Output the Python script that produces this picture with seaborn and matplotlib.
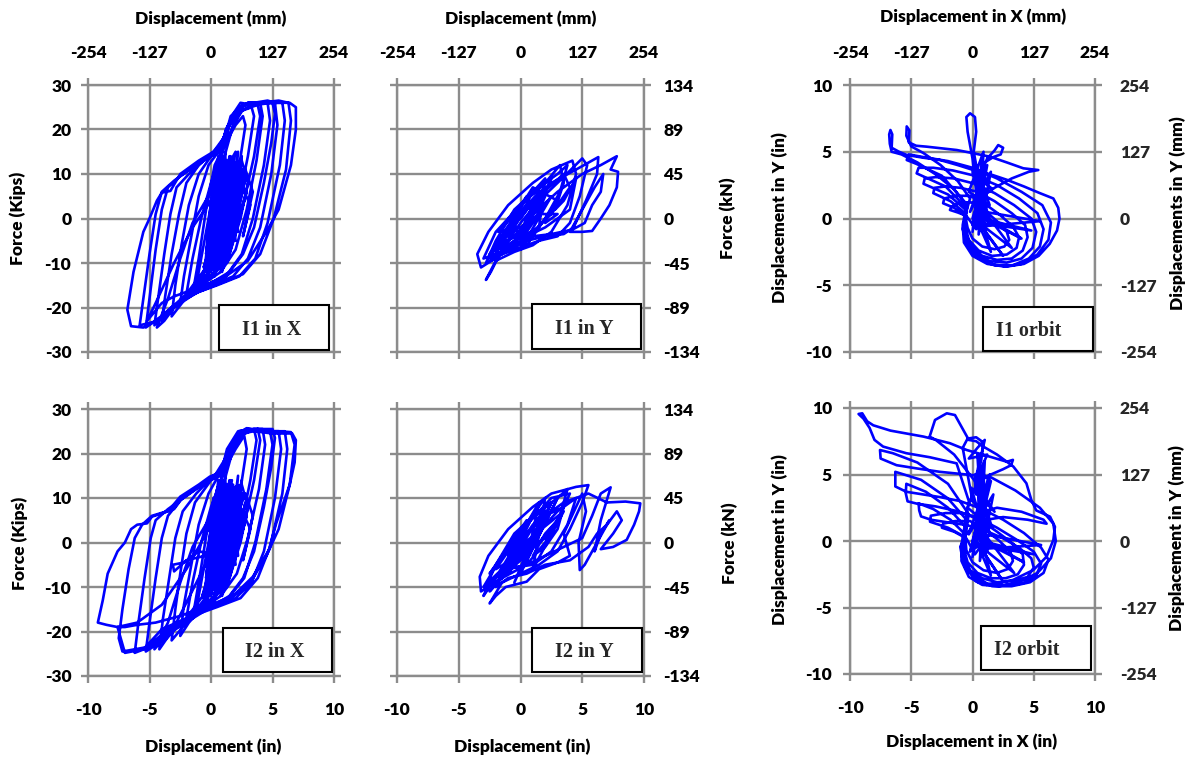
import numpy as np
import matplotlib
matplotlib.use("Agg")
import matplotlib.pyplot as plt
import seaborn as sns
from matplotlib.patches import Rectangle

# ---------------- data ----------------
IN_TICKS = [-10, -5, 0, 5, 10]
IN_LABELS = ["-10", "-5", "0", "5", "10"]
MM_LABELS = ["-254", "-127", "0", "127", "254"]
KIPS_TICKS = [-30, -20, -10, 0, 10, 20, 30]
KIPS_LABELS = ["-30", "-20", "-10", "0", "10", "20", "30"]
KN_LABELS = ["-134", "-89", "-45", "0", "45", "89", "134"]
ORB_TICKS = [-10, -5, 0, 5, 10]
ORB_LABELS = ["-10", "-5", "0", "5", "10"]

PANEL_TITLES = ["I1 in X", "I1 in Y", "I1 orbit", "I2 in X", "I2 in Y", "I2 orbit"]

# I1 in X : displacement (in), force (kips)
I1X_PTS = [
    (0.0, 0.0), (0.6, 7.0), (1.1, 11.0), (0.5, 2.0), (-0.2, -8.0), (-0.6, -11.0), (0.3, -3.0), (1.0, 9.0),
    (1.6, 13.0), (1.0, 4.0), (0.2, -9.0), (-0.4, -12.0), (0.5, 0.0), (1.4, 12.0), (2.0, 15.0), (1.4, 6.0),
    (0.6, -6.0), (-0.8, -13.0), (-1.5, -17.0), (-1.0, -9.0), (-0.4, 2.0), (0.3, 12.0), (1.2, 17.0), (2.0, 21.0),
    (2.6, 23.0), (2.8, 21.0), (2.3, 12.0), (1.5, 2.0), (0.6, -8.0), (-0.5, -14.0),
    (-1.2, -15), (-0.6, -6), (0.0, 3), (0.6, 10), (1.2, 15), (1.8, 21), (2.6, 24.5), (3.8, 25.5), (4.0, 23),
    (3.5, 14), (2.7, 4), (1.8, -5), (0.8, -11), (-0.5, -14),
    (-2.5, -19.0), (-2.2, -13.0),
    (-1.6, -4.0), (-1.0, 5.0), (-0.2, 12.0), (0.6, 15.0), (1.3, 20.0), (2.3, 24.0), (3.3, 25.0), (3.5, 23.0),
    (3.0, 14.0), (2.2, 3.0), (1.4, -6.0), (0.3, -12.0), (-1.0, -15.0), (-1.8, -17.0), (-3.2, -22.0), (-2.9, -15.0),
    (-2.4, -6.0), (-1.8, 3.0), (-1.0, 10.0), (0.0, 14.0), (0.8, 15.0), (1.2, 20.0), (2.0, 24.0), (3.0, 26.0),
    (4.0, 26.0), (4.2, 23.0), (3.7, 13.0), (2.9, 2.0), (2.0, -7.0), (0.8, -12.0), (-0.8, -15.0), (-2.2, -18.0),
    (-0.6, -13), (0.6, 14), (-0.3, -13), (0.9, 15), (0.0, -12), (1.2, 15), (0.3, -13), (1.5, 14), (0.6, -11),
    (1.8, 13), (0.9, -10), (2.1, 12), (1.2, -8), (2.3, 10), (1.4, -6), (0.2, 10), (-0.4, -8), (0.5, 12),
    (-0.2, -11), (1.0, 13), (0.4, -12), (1.3, 12), (0.7, -9), (1.7, 11), (1.0, -7), (2.0, 9), (0.1, -6),
    (0.8, 8), (-0.3, -4), (0.2, -10), (1.0, 12), (0.4, -11), (1.3, 13), (0.6, -9), (1.6, 14), (0.8, -12),
    (1.9, 12), (1.0, -8), (0.5, 10), (0.0, -11), (1.2, 11), (1.5, -6), (0.7, 13), (0.3, -12), (1.8, 9),
    (2.2, -3), (1.1, 14), (0.1, -8), (1.4, 10), (2.0, -5), (0.9, 12), (-0.2, -10), (1.7, 6), (0.6, -4),
    (-0.6, -12), (1.0, -11), (2.4, 13), (1.2, -9), (2.6, 11), (1.5, -7), (2.2, 15), (0.9, -12), (2.8, 9),
    (1.8, -4), (2.5, 14), (1.3, -10), (2.9, 6), (2.0, -2),
    (-2.0, -17), (-1.5, -9), (-0.8, 0), (0.0, 8), (0.8, 14), (1.5, 19), (2.4, 24), (3.6, 26), (5.0, 26),
    (5.2, 23.5), (4.9, 17), (4.3, 8), (3.5, -2), (2.6, -8), (1.5, -12), (0.0, -14.5),
    (-3.0, -20.0), (-4.0, -23.0), (-3.7, -17.0), (-3.2, -8.0), (-2.6, 1.0), (-2.0, 8.0), (-1.0, 12.0), (0.2, 15.0),
    (1.0, 17.0), (1.6, 23.0), (2.6, 25.5), (3.6, 26.0), (4.6, 26.0), (4.8, 22.0), (4.3, 12.0), (3.4, 0.0),
    (2.5, -8.0), (1.2, -13.0), (-0.5, -15.0), (-2.0, -17.0), (-3.6, -21.0),
    (-4.6, -24.0), (-4.3, -18.0), (-3.8, -8.0), (-3.3, 1.0), (-2.8, 7.0), (-1.8, 10.0), (-0.6, 13.0), (0.6, 15.0),
    (1.4, 21.0), (2.3, 25.0), (3.5, 26.0), (4.6, 26.5), (5.2, 26.0), (5.4, 21.0), (4.9, 10.0), (4.0, -2.0),
    (3.0, -9.0), (1.8, -13.0), (0.0, -15.0), (-1.6, -17.0), (-3.0, -20.0), (-3.8, -23.0), (-4.4, -24.5),
    (-3.5, -18), (-2.5, -9), (-1.5, -1), (0.0, 6), (1.5, 12), (2.5, 13), (3.0, 8), (2.4, 0), (1.5, -8),
    (1.8, 4), (2.8, 11), (3.4, 6), (2.6, -4), (3.2, 3), (2.2, 9), (1.6, 2),
    (0.5, -10), (-1.5, -16), (-3.5, -21.0), (-5.3, -24.5), (-5.0, -18.0), (-4.5, -7.0), (-4.0, 2.0), (-3.5, 7.0),
    (-2.5, 9.5), (-1.2, 12.0), (0.3, 14.5), (1.2, 19.0), (2.0, 24.0), (3.0, 26.0), (4.5, 26.0), (5.8, 26.0),
    (6.0, 22.0), (5.6, 12.0), (4.6, -1.0), (3.6, -9.0), (2.3, -13.0), (0.5, -15.0), (-1.5, -17.0), (-3.2, -20.0),
    (-4.3, -23.0),
    (-5.8, -24.0), (-5.5, -18.0), (-5.0, -8.0), (-4.5, 1.0), (-4.0, 6.0), (-3.0, 8.5), (-1.5, 11.5), (0.0, 14.0),
    (1.0, 16.0), (1.6, 22.0), (2.6, 25.5), (4.0, 26.0), (5.5, 26.5), (6.3, 26.0), (6.5, 22.0), (6.1, 11.0),
    (5.1, 0.0), (4.0, -8.0), (2.6, -12.5), (0.8, -14.5), (-1.0, -16.5), (-3.0, -19.5), (-4.5, -23.0),
    (-5.5, -24.5), (-6.5, -24.2), (-6.8, -20.5), (-6.3, -12.0), (-5.5, -3.0), (-5.0, 0.0), (-4.4, 4.0), (-4.0, 5.8),
    (-3.3, 6.2), (-2.5, 10.0), (-1.0, 13.0), (0.2, 15.0), (1.0, 18.0), (1.8, 23.5), (2.4, 26.0), (3.5, 25.5),
    (5.0, 26.0), (6.4, 26.0), (6.9, 25.0), (6.9, 20.0), (6.5, 12.0), (5.5, 2.0), (4.5, -3.0), (3.0, -9.5),
    (1.2, -13.0), (0.0, -14.5), (-1.5, -16.0), (-3.0, -17.5), (-4.0, -19.0), (-5.2, -23.0),
    (-4.5, -19), (-3.0, -10), (-1.5, -2), (0.0, 4), (1.5, 9), (2.5, 8), (2.0, 0), (1.0, -6), (0.5, 0), (1.0, 5),
]

# I1 in Y : displacement (in), force (kips)
I1Y_PTS = [
    (0, 0), (1, 4), (2, 7), (1.2, 2), (-0.5, -5), (-1.5, -8), (-0.5, -2), (0.8, 5), (2.5, 9), (1.5, 3),
    (0, -4), (-2, -9), (-2.8, -10), (-2, -5), (-0.5, 2), (1.5, 7), (3, 10), (3.8, 12), (3.2, 6), (2, 0),
    (0.5, -5), (-1.5, -8), (-3.2, -11), (-3.5, -8), (-2.6, -3), (-1, 3), (1, 8), (2.5, 11), (4.2, 13),
    (4.5, 10), (3.8, 3), (2.5, -3), (1, -6), (-0.5, -7.5), (-2, -9.5), (-2.8, -13.8), (-2.4, -12), (-1.5, -7),
    (0, -1), (1.5, 4), (3, 8), (5, 13.5), (5.4, 12), (4.8, 5), (4, -1), (3, -4), (1.5, -5), (0, -6.5),
    (-1.5, -8), (-2.5, -9), (-1.5, -4), (0.5, 3), (2.5, 8), (4.5, 11), (6.3, 13.8), (6.2, 10), (5.3, 4),
    (4.3, -2), (3.5, -3.5), (2, -4), (0.5, -5), (-0.5, -4), (1, 1), (3, 6), (5, 10), (6.5, 12), (7.8, 14),
    (7.3, 11), (7.9, 10.5), (7.8, 7), (7.2, 3), (6.5, 0), (5.8, -2.8), (5, -3), (4, -3), (5, 2), (6, 7),
    (6.7, 10), (6.5, 6), (5.8, 3), (5.2, -1), (4.2, -2.5), (2.5, -3.5), (1, -4), (-0.5, -6), (-2, -8),
    (-1, -2), (1.5, 6), (-0.5, -6), (2, 7), (-1.5, -5), (1, 4), (0, -7), (2.5, 5), (0.5, -3), (-2, -6),
    (1, 7), (3, 4), (0.5, -6), (-1, 0), (2, 9), (1.5, -2), (-1.8, -7), (0.5, 3), (2, 5), (1.2, 0), (0.5, -2),
    (-2.5, -8), (-0.5, 0), (1.5, 5), (3.5, 10), (4.0, 7), (2.5, 1), (1.0, -3), (-1.0, -7), (-3.0, -9),
    (-2.0, -3), (0.0, 3), (2.0, 8), (3.2, 12), (3.5, 8), (2.8, 2), (3.5, 4), (4.5, 9), (4.0, 2), (2.0, -2),
    (0.5, -4), (-1.0, -4), (0.5, 5), (-0.5, 1), (-1.8, -3), (0.0, -2), (1.5, 1), (3.0, 1), (2.0, -1),
]

# I1 orbit : displacement X (in), displacement Y (in)
I1O_PTS = [
    (0.0, 0.0), (0.5, 1.5), (1.0, 3.0), (0.4, 1.0), (0.0, -0.5), (0.8, 2.0), (1.2, 0.5), (0.3, -0.8),
    (-0.5, 0.2), (-1.2, 0.45), (-1.84, 0.64), (-1.7, 0.9), (-1.0, 1.2), (0.0, 1.2), (1.0, 0.6), (2.0, -0.2),
    (2.8, -1.0), (3.0, -1.6), (2.6, -2.1), (1.8, -2.3), (0.8, -2.1), (0.0, -1.5), (-0.4, -0.7),
    (-0.6, 0.2), (-1.5, 0.8), (-2.4, 1.14), (-2.3, 1.5), (-1.4, 1.7), (-0.2, 1.7), (1.0, 1.1), (2.2, 0.3),
    (3.3, -0.6), (3.8, -1.4), (3.6, -2.2), (2.8, -2.7), (1.6, -2.8), (0.5, -2.4), (-0.3, -1.6), (-0.6, -0.6),
    (-0.6, 0.4), (-1.8, 1.3), (-3.2, 1.9), (-3.1, 2.3), (-2.2, 2.4), (-1.0, 2.3), (0.4, 2.0), (1.8, 1.3),
    (3.2, 0.4), (4.3, -0.5), (4.5, -1.4), (4.1, -2.4), (3.2, -3.0), (2.0, -3.1), (0.8, -2.8), (-0.1, -2.1),
    (-0.6, -1.0),
    (-0.5, 0.6), (-2.0, 1.8), (-4.0, 2.6), (-3.9, 3.0), (-3.0, 3.1), (-1.5, 3.0), (0.2, 2.6), (1.8, 1.9),
    (3.4, 1.0), (4.8, 0.0), (5.2, -1.0), (4.9, -2.2), (4.0, -3.0), (2.8, -3.3), (1.4, -3.2), (0.3, -2.6),
    (-0.5, -1.6), (-0.7, -0.4),
    (-0.5, 0.8), (-2.2, 2.4), (-4.56, 3.38), (-4.4, 3.8), (-3.2, 3.8), (-1.6, 3.6), (0.2, 3.2), (2.0, 2.5),
    (3.8, 1.5), (5.3, 0.4), (5.8, -0.8), (5.5, -2.1), (4.6, -3.0), (3.3, -3.5), (1.8, -3.5), (0.5, -3.0),
    (-0.4, -2.1), (-0.8, -0.8),
    (-0.4, 1.0), (-2.5, 3.2), (-4.6, 4.1), (-5.37, 4.38), (-5.2, 4.8), (-4.0, 4.6), (-2.0, 4.3), (0.0, 3.8),
    (2.0, 3.0), (4.0, 2.0), (5.7, 1.0), (6.4, -0.3), (6.2, -1.6), (5.3, -2.7), (4.0, -3.4), (2.6, -3.6),
    (1.2, -3.4), (0.0, -2.8), (-0.7, -1.8), (-0.8, -0.5),
    (-0.5, 1.0), (-1.5, 2.2), (-3.0, 3.3), (-4.5, 4.2), (-5.8, 4.8), (-6.6, 5.0), (-6.75, 5.6), (-6.8, 6.3),
    (-6.7, 6.63), (-6.55, 6.3), (-6.6, 5.3), (-6.0, 5.0), (-5.37, 4.76), (-4.0, 4.55), (-2.65, 4.38),
    (-1.2, 4.0), (0.07, 3.63), (1.5, 3.3), (2.8, 2.9), (4.2, 2.4), (5.5, 1.9), (6.6, 1.5), (7.0, 0.8),
    (7.1, 0.0), (6.9, -0.9), (6.3, -1.9), (5.4, -2.8), (4.2, -3.4), (2.8, -3.6), (1.5, -3.4), (0.4, -2.8),
    (-0.4, -2.0), (-0.75, -0.9), (-0.6, 0.2),
    (-0.2, 1.5), (-1.2, 2.8), (-2.6, 4.0), (-4.0, 4.9), (-5.0, 5.4), (-5.4, 6.2), (-5.37, 6.9), (-5.15, 6.6),
    (-5.2, 5.7), (-4.6, 5.45), (-3.74, 5.38), (-2.5, 5.25), (-1.29, 5.13), (0.0, 4.9), (1.43, 4.63),
    (2.8, 4.2), (4.15, 3.76), (5.37, 3.63), (4.6, 3.5), (3.2, 3.0), (1.8, 2.3), (0.6, 1.5),
    (0.3, 2.0), (0.0, 4.5), (-0.4, 6.5), (-0.5, 7.6), (-0.2, 7.88), (0.2, 7.6), (0.3, 6.5), (0.1, 5.0),
    (0.5, 3.0), (1.2, 4.5), (1.8, 5.1), (2.1, 5.5), (2.5, 5.3), (2.3, 4.8), (1.7, 4.6), (1.0, 4.2),
    (0.0, -1.0), (0.8, 4.5), (0.3, -0.5), (1.2, 4.0), (-0.2, 0.5), (1.5, 3.5), (0.5, -1.2), (0.9, 5.0),
    (-0.3, 2.0), (1.4, 1.0), (0.2, 4.2), (1.0, -0.8), (0.6, 3.0), (1.6, 2.2), (0.0, 3.5), (1.1, 0.2),
    (0.6, 0.3), (4.0, -1.5), (0.8, 0.0), (4.8, -0.9), (0.5, -0.3), (3.2, -2.2), (1.0, 0.5), (5.5, -0.2),
    (0.7, -0.6), (2.5, -2.8), (0.3, 0.0), (1.5, -2.5), (0.5, 0.8),
]

# I2 in X : displacement (in), force (kips)
I2X_PTS = [
    (0.0, 0.0), (0.7, 8.0), (1.2, 12.0), (0.5, 2.0), (-0.2, -8.0), (-0.7, -12.0), (0.3, -2.0), (1.1, 10.0),
    (1.7, 14.0), (1.0, 3.0), (0.1, -9.0), (-0.5, -13.0),
    (-1.5, -17.0), (-1.0, -9.0), (-0.3, 3.0), (0.5, 12.0), (1.2, 17.0), (2.0, 21.0), (2.7, 24.0), (2.9, 21.0),
    (2.4, 12.0), (1.6, 2.0), (0.7, -8.0), (-0.6, -14.0),
    (-1.2, -15), (-0.6, -6), (0.0, 3), (0.6, 10), (1.2, 15), (1.8, 21), (2.6, 24.5), (3.8, 25.5), (4.0, 23),
    (3.5, 14), (2.7, 4), (1.8, -5), (0.8, -11), (-0.5, -14),
    (-1.8, -18.0), (-2.5, -21.0), (-2.2, -14.0), (-1.6, -5.0), (-1.0, 4.0), (-0.2, 11.0), (0.6, 15.0),
    (1.3, 20.0), (2.3, 24.5), (3.5, 25.5), (3.7, 23.0), (3.2, 14.0), (2.4, 3.0), (1.5, -6.0), (0.3, -12.0),
    (-1.0, -15.0), (-2.0, -18.0),
    (-3.2, -22.0), (-2.9, -15.0), (-2.5, -7.0), (-2.0, 2.0), (-1.3, 9.0), (0.0, 14.0), (0.8, 15.5),
    (1.3, 21.0), (2.2, 25.0), (3.2, 25.5), (4.2, 25.5), (4.4, 22.0), (3.9, 12.0), (3.0, 1.0), (2.1, -7.0),
    (0.8, -12.0), (-0.8, -15.0), (-2.2, -18.5),
    (-0.6, -13), (0.6, 14), (-0.3, -13), (0.9, 15), (0.0, -12), (1.2, 15), (0.3, -13), (1.5, 14), (0.6, -11),
    (1.8, 13), (0.9, -10), (2.1, 12), (1.2, -8), (2.3, 10), (1.4, -6), (0.2, 10), (-0.4, -8), (0.5, 12),
    (-0.2, -11), (1.0, 13), (0.4, -12), (1.3, 12), (0.7, -9), (1.7, 11), (1.0, -7), (2.0, 9), (0.1, -6),
    (0.8, 8), (-0.3, -4), (0.2, -10), (1.0, 12), (0.4, -11), (1.3, 13), (0.6, -9), (1.6, 14), (0.8, -12),
    (1.9, 12), (1.0, -8), (0.5, 10), (0.0, -11), (1.2, 11), (1.5, -6), (0.7, 13), (0.3, -12), (1.8, 9),
    (2.2, -3), (1.1, 14), (0.1, -8), (1.4, 10), (2.0, -5), (0.9, 12), (-0.2, -10), (1.7, 6), (0.6, -4),
    (-0.6, -12), (1.0, -11), (2.4, 13), (1.2, -9), (2.6, 11), (1.5, -7), (2.2, 15), (0.9, -12), (2.8, 9),
    (1.8, -4), (2.5, 14), (1.3, -10), (2.9, 6), (2.0, -2),
    (-2.0, -17), (-1.5, -9), (-0.8, 0), (0.0, 8), (0.8, 14), (1.5, 19), (2.4, 24), (3.6, 25.5), (5.0, 25.5),
    (5.2, 23.5), (4.9, 17), (4.3, 8), (3.5, -2), (2.6, -8), (1.5, -12), (0.0, -14.5),
    (-3.2, -20.0), (-4.2, -24.0), (-3.9, -17.0), (-3.4, -8.0), (-2.9, 1.0), (-2.3, 7.0), (-1.2, 11.0),
    (0.2, 15.0), (1.0, 16.5), (1.6, 22.0), (2.6, 25.0), (3.8, 25.5), (4.8, 25.0), (5.0, 22.0), (4.5, 12.0),
    (3.6, 0.0), (2.7, -8.0), (1.4, -12.5), (-0.5, -15.0), (-2.0, -17.0), (-3.6, -21.5),
    (-5.3, -24.5), (-5.0, -18.0), (-4.5, -8.0), (-4.0, 1.0), (-3.5, 6.0), (-2.5, 9.5), (-1.2, 12.0),
    (0.3, 15.0), (1.2, 19.0), (2.0, 23.5), (3.0, 25.5), (4.5, 25.0), (5.5, 25.0), (5.7, 21.0), (5.2, 10.0),
    (4.3, -2.0), (3.3, -9.0), (2.0, -12.5), (0.0, -14.5), (-1.8, -17.0), (-3.5, -20.5), (-4.6, -24.0),
    (-3.5, -18), (-2.5, -9), (-1.5, -1), (0.0, 6), (1.5, 12), (2.5, 13), (3.0, 8), (2.4, 0), (1.5, -8),
    (1.8, 4), (2.8, 11), (3.4, 6), (2.6, -4), (3.2, 3), (2.2, 9), (1.6, 2),
    (-0.5, -3), (-2.0, -4), (-3.0, -6.5), (-3.1, -5.0), (-2.2, -4.5), (-1.0, -2.0), (0.0, -2.5), (-1, -8),
    (-3.0, -19.0), (-5.0, -23.5), (-6.2, -24.8), (-5.9, -18.0), (-5.4, -8.0), (-4.9, 1.0), (-4.5, 5.0),
    (-3.5, 7.5), (-2.0, 10.5), (-0.5, 13.5), (0.8, 15.5), (1.5, 21.0), (2.3, 25.0), (3.5, 25.5), (5.0, 25.0),
    (6.0, 25.0), (6.2, 21.0), (5.8, 11.0), (4.8, -1.0), (3.8, -8.0), (2.4, -12.5), (0.5, -14.5), (-1.5, -16.5),
    (-3.5, -19.5), (-5.2, -23.5),
    (-7.2, -24.5), (-7.5, -21.5), (-7.2, -15.0), (-6.7, -6.0), (-6.2, 1.0), (-5.6, 4.0), (-4.8, 6.0),
    (-3.0, 7.5), (-2.2, 10.5), (-0.5, 13.5), (0.8, 15.0), (1.5, 20.0), (2.2, 24.5), (2.9, 25.7), (4.0, 25.0),
    (5.5, 25.0), (6.5, 24.8), (6.8, 22.0), (6.4, 13.0), (5.5, 3.0), (4.5, -3.0), (3.2, -9.0), (1.6, -12.5),
    (0.0, -14.5), (-2.0, -17.0), (-4.0, -19.5), (-5.5, -24.0), (-7.0, -24.8),
    (-7.6, -19.0), (-8.5, -18.5), (-9.2, -18.0), (-8.8, -13.0), (-8.4, -7.0), (-7.6, -2.0), (-7.0, 0.0),
    (-6.5, 3.0), (-6.0, 4.0), (-5.2, 4.3), (-4.8, 5.8), (-3.5, 7.0), (-2.5, 10.3), (-1.0, 13.0), (-0.1, 14.8),
    (1.0, 16.0), (1.7, 21.0), (2.5, 24.5), (3.5, 25.0), (5.0, 24.5), (6.6, 24.5), (6.9, 23.0), (6.8, 18.0),
    (6.4, 13.0), (5.3, 4.3), (4.7, -1.7), (3.4, -7.7), (1.8, -12.0), (-0.4, -14.4), (-2.5, -16.5),
    (-4.5, -18.0), (-6.0, -18.5), (-7.0, -19.0), (-7.6, -19.0),
    (-6, -18), (-4, -14), (-2, -6), (0, 4), (1.5, 10), (2.5, 7), (1.5, -2), (0.5, -6),
]

# I2 in Y : displacement (in), force (kips)
I2Y_PTS = [
    (0, 0), (1, 4), (2, 7), (1.2, 2), (-0.5, -5), (-1.5, -8), (-0.5, -2), (0.8, 5), (2.5, 9), (1.5, 3),
    (0, -4), (-2, -9), (-2.8, -10), (-2, -5), (-0.5, 2), (1.5, 7), (3, 10), (3.8, 12), (3.2, 6), (2, 0),
    (0.5, -5), (-1.5, -8), (-3.2, -11), (-3.3, -7.7), (-2.6, -3), (-1, 3), (1, 8), (2.5, 11), (4.5, 12.5),
    (5.5, 12.9), (5.0, 9), (4.0, 3), (3.0, -2), (1.5, -5), (0, -7), (-1.5, -9), (-2.5, -13.7), (-2.0, -12),
    (-1.2, -10), (0.5, -8.8), (1.5, -6), (3.0, -4.5), (4.0, -3), (3.5, 2), (4.5, 8), (5.0, 11), (5.3, 7),
    (4.7, 0), (4.8, -6.2), (5.2, -5), (6, -1), (6.8, 3), (7.2, 5), (6.5, 2), (6.0, -2), (6.5, 5),
    (7.3, 12.4), (6.5, 11), (5.8, 6), (5, 1), (3.5, -1), (2, -3), (0.5, -5), (-1, -6), (-2.5, -9), (-3, -12),
    (-2, -8), (-0.5, -1), (1.5, 5), (3.5, 9), (5.5, 11), (7.0, 9), (8.5, 9.2), (9.7, 8.8), (9.6, 7),
    (9.2, 4), (8.6, 0.6), (7.5, -1), (6.5, -1.5), (7.5, 2), (8.2, 5), (7.8, 7), (7, 4), (6.2, 2), (5.5, -1),
    (4.0, -4), (2.0, -5), (0.5, -7), (-1.0, -8), (-2.0, -10), (-1.0, -4), (0.5, 2), (2.0, 6), (3.5, 8),
    (3.0, 3), (2.0, -1), (1.0, -3), (2.0, 2), (3.0, 5), (2.0, 1), (1.0, -1),
    (-2, -6), (1, 6), (-1.5, -8), (2, 8), (-0.5, -9), (2.5, 9), (0, -7), (3, 10), (0.5, -4), (1.5, 9),
    (-1, -3), (3.5, 7), (1, -6), (2, 10), (-2.5, -7), (0.5, 5), (-1, -7), (1.5, 2), (0, -2),
    (-3.0, -10), (-1.5, -3), (0.5, 4), (2.5, 10), (4.0, 11), (3.0, 5), (1.5, 0), (-0.5, -5), (-2.5, -11),
    (-1.0, -6), (1.0, 1), (3.0, 7), (4.5, 10), (3.8, 4), (2.5, -2), (1.0, -5), (-1.5, -6), (0.5, 0),
]

# I2 orbit : displacement X (in), displacement Y (in)
I2O_PTS = [
    (0.0, 0.0), (0.6, 2.0), (1.2, 4.0), (0.5, 1.0), (-0.2, -0.8), (0.9, 3.0), (1.4, 0.5), (0.2, -1.0),
    (-0.5, 0.2), (-1.5, 0.7), (-2.5, 1.0), (-2.4, 1.3), (-1.4, 1.5), (-0.2, 1.5), (1.0, 0.9), (2.2, 0.0),
    (3.1, -0.8), (3.3, -1.5), (2.9, -2.1), (2.0, -2.4), (0.9, -2.2), (0.0, -1.6), (-0.5, -0.7),
    (-0.6, 0.3), (-2.0, 1.0), (-3.47, 1.45), (-3.4, 1.9), (-2.2, 2.1), (-0.8, 2.1), (0.6, 1.6), (2.0, 0.7),
    (3.3, -0.2), (4.1, -1.0), (4.2, -1.8), (3.7, -2.5), (2.7, -2.8), (1.5, -2.8), (0.4, -2.4), (-0.4, -1.6),
    (-0.7, -0.6),
    (-0.6, 0.5), (-1.8, 1.6), (-3.2, 2.4), (-4.4, 2.83), (-4.35, 2.3), (-4.2, 1.85), (-3.4, 1.6), (-2.0, 1.4),
    (-0.5, 1.2), (1.0, 0.8), (2.5, 0.2), (3.8, -0.5), (4.8, -1.3), (5.0, -2.0), (4.5, -2.7), (3.4, -3.0),
    (2.0, -3.1), (0.8, -2.8), (-0.2, -2.2), (-0.7, -1.2), (-0.6, 0.0),
    (-0.5, 1.0), (-2.0, 2.5), (-3.8, 3.7), (-5.4, 4.3), (-5.45, 3.6), (-5.3, 2.98), (-4.5, 2.8), (-3.0, 2.6),
    (-1.5, 2.3), (0.3, 1.8), (2.0, 1.0), (3.6, 0.1), (5.0, -0.8), (5.6, -1.7), (5.2, -2.6), (4.1, -3.2),
    (2.6, -3.3), (1.2, -3.2), (0.1, -2.6), (-0.7, -1.6), (-0.8, -0.3),
    (-0.4, 1.5), (-2.0, 3.2), (-4.2, 4.6), (-6.3, 5.2), (-6.3, 4.1), (-5.4, 3.7), (-4.0, 3.5), (-2.65, 3.3),
    (-1.0, 3.0), (0.8, 2.4), (2.5, 1.6), (4.2, 0.6), (5.6, -0.5), (6.2, -1.4), (5.8, -2.4), (4.7, -3.1),
    (3.2, -3.4), (1.6, -3.4), (0.3, -2.9), (-0.6, -2.0), (-0.9, -0.7),
    (-0.3, 2.0), (-2.0, 4.3), (-4.5, 5.9), (-6.5, 6.6), (-7.55, 6.84), (-7.5, 6.2), (-6.2, 5.7), (-4.5, 5.45),
    (-2.65, 5.2), (-0.5, 5.0), (1.4, 4.84), (3.5, 3.8), (5.5, 2.5), (6.6, 1.3), (6.8, 0.0), (6.4, -1.3),
    (5.3, -2.4), (3.8, -3.1), (2.2, -3.4), (0.8, -3.3), (-0.3, -2.7), (-0.9, -1.5), (-0.9, -0.3),
    (-0.3, 3.0), (-1.3, 5.84), (-3.5, 6.3), (-5.4, 6.6), (-7.3, 7.1), (-8.0, 7.6), (-8.4, 8.5), (-8.9, 9.2),
    (-9.3, 9.55), (-9.0, 9.6), (-8.6, 9.0), (-8.1, 8.7), (-6.7, 8.3), (-4.0, 7.85), (-1.84, 7.35),
    (-0.47, 6.84), (1.2, 6.4), (2.8, 5.96), (3.3, 6.1), (3.15, 5.7), (2.5, 5.4), (1.0, 4.8), (0.3, 3.5),
    (0.2, 4.5), (-1.5, 6.5), (-3.0, 7.6), (-3.5, 7.85), (-3.06, 9.1), (-2.1, 9.6), (-1.43, 9.47), (-0.75, 8.35),
    (-0.3, 7.6), (0.3, 7.5), (0.88, 7.1), (2.0, 6.5), (3.33, 5.6), (4.4, 4.34), (4.8, 3.1), (5.2, 2.3),
    (6.33, 1.83), (6.73, 1.07), (6.6, 0.08), (6.05, -1.18), (4.97, -2.18), (3.3, -2.93), (1.16, -3.3),
    (0.34, -3.06), (-0.75, -1.68), (-1.0, -0.43), (-0.47, 0.58),
    (0.5, 1.5), (2.5, 1.8), (4.5, 1.6), (6.05, 1.3), (5.8, 1.6), (4.0, 2.2), (2.0, 2.5), (0.8, 2.2),
    (0.0, 3.0), (-0.5, 5.5), (-0.8, 7.0), (-0.4, 7.7), (0.3, 7.8), (0.9, 7.4), (0.7, 6.0), (0.2, 4.5),
    (1.0, 7.6), (0.4, 7.0), (-0.3, 6.2), (1.2, 6.5), (0.6, 5.2), (1.5, 4.5),
    (0.0, -1.2), (0.8, 5.5), (0.3, -0.5), (1.4, 5.0), (-0.3, 0.5), (1.7, 3.5), (0.6, -1.5), (1.0, 6.0),
    (-0.4, 2.5), (1.6, 1.0), (0.2, 5.0), (1.2, -0.8), (0.5, 3.8), (1.8, 2.2), (-0.1, 4.0), (1.1, 0.2),
    (0.4, 6.5), (0.9, -1.0),
    (0.6, 0.3), (4.2, -1.6), (0.8, 0.0), (5.0, -1.0), (0.5, -0.3), (3.4, -2.4), (1.0, 0.5), (5.6, -0.3),
    (0.7, -0.6), (2.4, -2.9), (0.3, 0.0), (1.5, -2.6), (0.6, 0.8),
]

# ---------------- figure ----------------
sns.set_theme(style="white")
plt.rcParams["font.family"] = ["Lato", "DejaVu Sans"]
plt.rcParams["font.weight"] = "heavy"

W, H = 1191, 761
fig = plt.figure(figsize=(W / 100, H / 100), dpi=100)
GRID = "#8c8c8c"
BLUE = "#0000ff"
TICK_FS = 12.5
LABEL_FS = 12.5
WEIGHT = "heavy"


def add_ax(x0, y0, x1, y1):
    return fig.add_axes([x0 / W, 1 - y1 / H, (x1 - x0) / W, (y1 - y0) / H])


def base_style(ax, yticks, ylim):
    ax.set_xlim(-10, 10)
    ax.set_ylim(*ylim)
    ax.set_xticks(IN_TICKS)
    ax.set_yticks(yticks)
    ax.grid(True, color=GRID, lw=1.7)
    ax.set_axisbelow(True)
    for sp in ax.spines.values():
        sp.set_color(GRID)
        sp.set_linewidth(1.7)
    ax.tick_params(which="both", direction="out", length=5, width=1.7, color=GRID,
                   top=True, bottom=True, left=True, right=True,
                   labelsize=TICK_FS, labelcolor="black")
    ax.set_xlabel("")
    ax.set_ylabel("")


def trace(ax, pts):
    xs = np.array([p[0] for p in pts], dtype=float)
    ys = np.array([p[1] for p in pts], dtype=float)
    sns.lineplot(x=xs, y=ys, sort=False, estimator=None, ax=ax, color=BLUE, lw=1.9, zorder=3)


def tag(ax, text, box, tx):
    x0, y0, x1, y1 = box
    ax.add_patch(Rectangle((x0, y0), x1 - x0, y1 - y0, transform=ax.transAxes,
                           facecolor="white", edgecolor="black", lw=1.5, zorder=5, clip_on=False))
    ax.text(tx, (y0 + y1) / 2 - 0.008, text, transform=ax.transAxes, ha="center", va="center",
            fontfamily="Liberation Serif", fontweight="bold", fontsize=14.5, zorder=6)


ax1 = add_ax(88, 85, 334, 352)
ax2 = add_ax(397, 85, 644, 352)
ax3 = add_ax(850, 85, 1095, 352)
ax4 = add_ax(88, 409, 334, 676)
ax5 = add_ax(397, 409, 644, 676)
ax6 = add_ax(850, 408, 1095, 674)

tw3 = ax3.twinx()
tw6 = ax6.twinx()
for tw in (tw3, tw6):
    tw.set_ylim(-10, 10)
    tw.set_yticks(ORB_TICKS)
    tw.set_yticklabels(MM_LABELS)
    for sp in tw.spines.values():
        sp.set_visible(False)
    tw.grid(False)

for ax, pts in ((ax1, I1X_PTS), (ax2, I1Y_PTS), (ax4, I2X_PTS), (ax5, I2Y_PTS),
                (ax3, I1O_PTS), (ax6, I2O_PTS)):
    trace(ax, pts)

for ax in (ax1, ax2, ax4, ax5):
    base_style(ax, KIPS_TICKS, (-30, 30))
for ax in (ax3, ax6):
    base_style(ax, ORB_TICKS, (-10, 10))

for ax in (ax1, ax2, ax3):
    ax.set_xticklabels(MM_LABELS)
    ax.tick_params(axis="x", labeltop=True, labelbottom=False, pad=12)
for ax in (ax4, ax5, ax6):
    ax.set_xticklabels(IN_LABELS)
    ax.tick_params(axis="x", labeltop=False, labelbottom=True, pad=14)

for ax in (ax1, ax4):
    ax.set_yticklabels(KIPS_LABELS)
    ax.tick_params(axis="y", labelleft=True, labelright=False, pad=7)
for ax in (ax2, ax5):
    ax.set_yticklabels(KN_LABELS)
    ax.tick_params(axis="y", labelleft=False, labelright=True, pad=9)
for ax in (ax3, ax6):
    ax.set_yticklabels(ORB_LABELS)
    ax.tick_params(axis="y", labelleft=True, labelright=False, pad=8)

for tw in (tw3, tw6):
    tw.yaxis.tick_right()
    tw.tick_params(length=0, pad=18, labelsize=TICK_FS)

for a in (ax1, ax2, ax3, ax4, ax5, ax6, tw3, tw6):
    for lab in a.get_xticklabels() + a.get_yticklabels():
        lab.set_fontweight(WEIGHT)

tag(ax1, PANEL_TITLES[0], (0.533, 0.008, 0.980, 0.176), 0.745)
tag(ax2, PANEL_TITLES[1], (0.547, 0.011, 0.988, 0.180), 0.76)
tag(ax3, PANEL_TITLES[2], (0.543, 0.004, 0.992, 0.169), 0.73)
tag(ax4, PANEL_TITLES[3], (0.549, 0.015, 0.992, 0.180), 0.76)
tag(ax5, PANEL_TITLES[4], (0.547, 0.015, 0.992, 0.180), 0.76)
tag(ax6, PANEL_TITLES[5], (0.535, 0.015, 0.984, 0.180), 0.72)


def ftext(s, x, y, rot=0):
    fig.text(x / W, 1 - y / H, s, ha="center", va="center", rotation=rot,
             fontsize=LABEL_FS, fontweight=WEIGHT, color="black")


ftext("Displacement (mm)", 211, 19)
ftext("Displacement (mm)", 521, 19)
ftext("Displacement in X (mm)", 973, 17)
ftext("Displacement (in)", 213, 747)
ftext("Displacement (in)", 522, 747)
ftext("Displacement in X (in)", 972, 742)
ftext("Force (Kips)", 18, 218, 90)
ftext("Force (kN)", 728, 218, 90)
ftext("Displacement in Y (in)", 780, 218, 90)
ftext("Displacements in Y (mm)", 1178, 213, 90)
ftext("Force (Kips)", 20, 543, 90)
ftext("Force (kN)", 730, 543, 90)
ftext("Displacement in Y (in)", 780, 540, 90)
ftext("Displacement in Y (mm)", 1177, 538, 90)

fig.savefig("out.png", dpi=100, facecolor="white")
